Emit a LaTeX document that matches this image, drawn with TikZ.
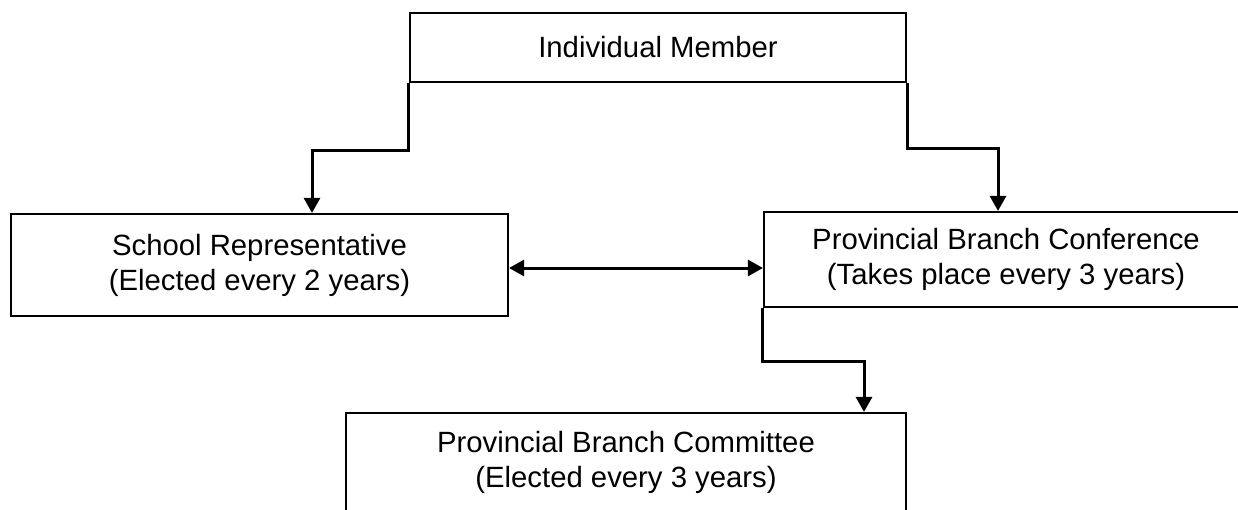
\documentclass[tikz,border=0pt]{standalone}
\usepackage{fontspec}
\setmainfont{Liberation Sans}
\usetikzlibrary{arrows.meta}
\usetikzlibrary{positioning}
\tikzset{
    Box/.style = {rectangle, draw=black, align=center, line width=2.2pt, inner sep=0pt}
}
\tikzset{
    Link/.style = {draw=black, line width=3pt, -{Triangle[width=16pt,length=15pt]}}
}
\tikzset{
    BiLink/.style = {draw=black, line width=3pt, {Triangle[width=16pt,length=15pt]}-{Triangle[width=16pt,length=15pt]}}
}

\begin{document}
\begin{tikzpicture}[
    x=1pt, y=-1pt,
    font=\fontsize{29.3}{35}\selectfont
]
\useasboundingbox (0,0) rectangle (1238,509);
\node[Box, minimum width=496pt, minimum height=69pt] at (658,47.5) (member) {Individual Member};
\node[Box, minimum width=497pt, minimum height=102pt] at (259.5,265) (school) {School Representative\\(Elected every 2 years)};
\node[Box, minimum width=484pt, minimum height=95pt] at (1006,259.5) (conf) {Provincial Branch Conference\\(Takes place every 3 years)};
\node[Box, minimum width=560pt, minimum height=98pt] at (626,462) (committee) {Provincial Branch Committee\\(Elected every 3 years)};
\draw[Link] (member.south west) -- ++(0,67) -| ([xshift=52.5pt]school.north);
\draw[Link] (member.south east) -- ++(0,65) -| ([xshift=-8pt]conf.north);
\path ([yshift=-3pt]school.east) edge [BiLink] ([yshift=-3pt]school.east -| conf.west);
\draw[Link] (conf.south west) -- ++(0,53) -| ([xshift=238pt]committee.north);
\end{tikzpicture}
\end{document}
